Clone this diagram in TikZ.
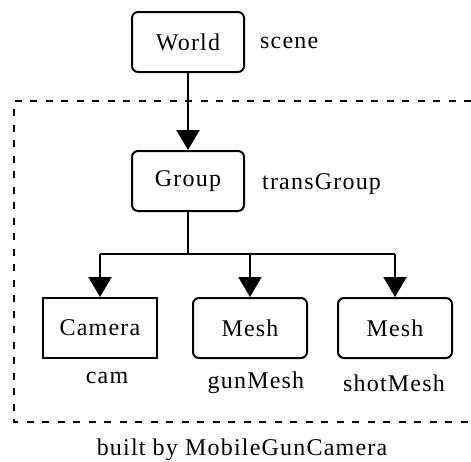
\documentclass[tikz,border=0pt]{standalone}
\usepackage{fontspec}
\setmainfont{Liberation Serif}[LetterSpace=5]
\usetikzlibrary{arrows.meta}
\begin{document}
\begin{tikzpicture}[x=1pt,y=-1pt,
  every node/.style={font=\fontsize{24}{27}\selectfont, inner sep=0pt},
  obj/.style={draw, line width=2pt, rounded corners=6pt, minimum width=112pt, minimum height=60pt},
  plainobj/.style={draw, line width=2pt, minimum width=114pt, minimum height=60pt},
  link/.style={line width=2pt},
  linkarrow/.style={link, -{Triangle[length=20pt,width=23pt]}},
  border/.style={line width=2pt, dash pattern=on 7pt off 8.5pt}
]
\useasboundingbox (0,0) rectangle (471,461);

% component boundary
\draw[border] (471,101) -- (14,101) -- (14,422) -- (471,422);

% scene graph nodes
\node[obj] (world) at (188,42) {World};
\node[obj] (group) at (188,181) {Group};
\node[plainobj] (cam) at (100,328) {Camera};
\node[obj, minimum width=114pt] (gun) at (250,328) {Mesh};
\node[obj, minimum width=114pt] (shot) at (395,328) {Mesh};

% labels
\node[anchor=west] (lscene) at (260,43) {scene};
\node[anchor=west] (lgroup) at (262,184) {transGroup};
\node (lcam) at (107,378) {cam};
\node (lgun) at (256,383) {gunMesh};
\node (lshot) at (394,383) {shotMesh};
\node (lbuilt) at (242,450) {built by MobileGunCamera};

% connectors
\coordinate (fork) at (188,254);
\draw[linkarrow] (world.south) -- (group.north);
\draw[link] (group.south) -- (fork);
\draw[link] (cam.north |- fork) -- (shot.north |- fork);
\draw[linkarrow] (cam.north |- fork) -- (cam.north);
\draw[linkarrow] (gun.north |- fork) -- (gun.north);
\draw[linkarrow] (shot.north |- fork) -- (shot.north);
\end{tikzpicture}
\end{document}
